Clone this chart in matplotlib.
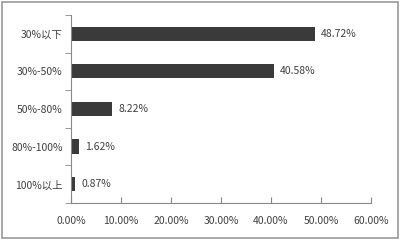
import matplotlib.pyplot as plt
from matplotlib.patches import Rectangle

plt.rcParams['font.family'] = ['Noto Sans CJK SC', 'DejaVu Sans']

categories = ["30%以下", "30%-50%", "50%-80%", "80%-100%", "100%以上"]
values = [48.72, 40.58, 8.22, 1.62, 0.87]
xticks = [0, 10, 20, 30, 40, 50, 60]

fig = plt.figure(figsize=(4, 2.4), dpi=100)
fig.patches.append(Rectangle((0.006, 0.008), 0.988, 0.984, transform=fig.transFigure,
                             fill=False, edgecolor="#9a9a9a", linewidth=1.2))
ax = fig.add_axes([0.1775, 0.154, 0.75, 0.784])

pos = list(range(len(categories)))
ax.barh(pos, values, height=0.38, color="#3a3a3a")
for p, v in zip(pos, values):
    ax.text(v + 1.2, p, f"{v:.2f}%", va="center", ha="left", fontsize=7.5, color="#404040")

ax.set_ylim(len(categories) - 0.5, -0.5)
ax.set_xlim(0, 60)
ax.set_yticks(pos)
ax.set_yticklabels(categories, fontsize=7.5, color="#404040")
ax.set_yticks([i - 0.5 for i in range(len(categories) + 1)], minor=True)
ax.tick_params(axis="y", which="major", length=0, pad=6)
ax.tick_params(axis="y", which="minor", length=4, color="#888888")
ax.set_xticks(xticks)
ax.set_xticklabels([f"{t:.2f}%" for t in xticks], fontsize=7.5, color="#404040")
ax.tick_params(axis="x", length=4, direction="in", color="#888888", pad=9)

for s in ["top", "right"]:
    ax.spines[s].set_visible(False)
for s in ["left", "bottom"]:
    ax.spines[s].set_color("#888888")
    ax.spines[s].set_linewidth(0.8)

fig.savefig("out.png", dpi=100)
